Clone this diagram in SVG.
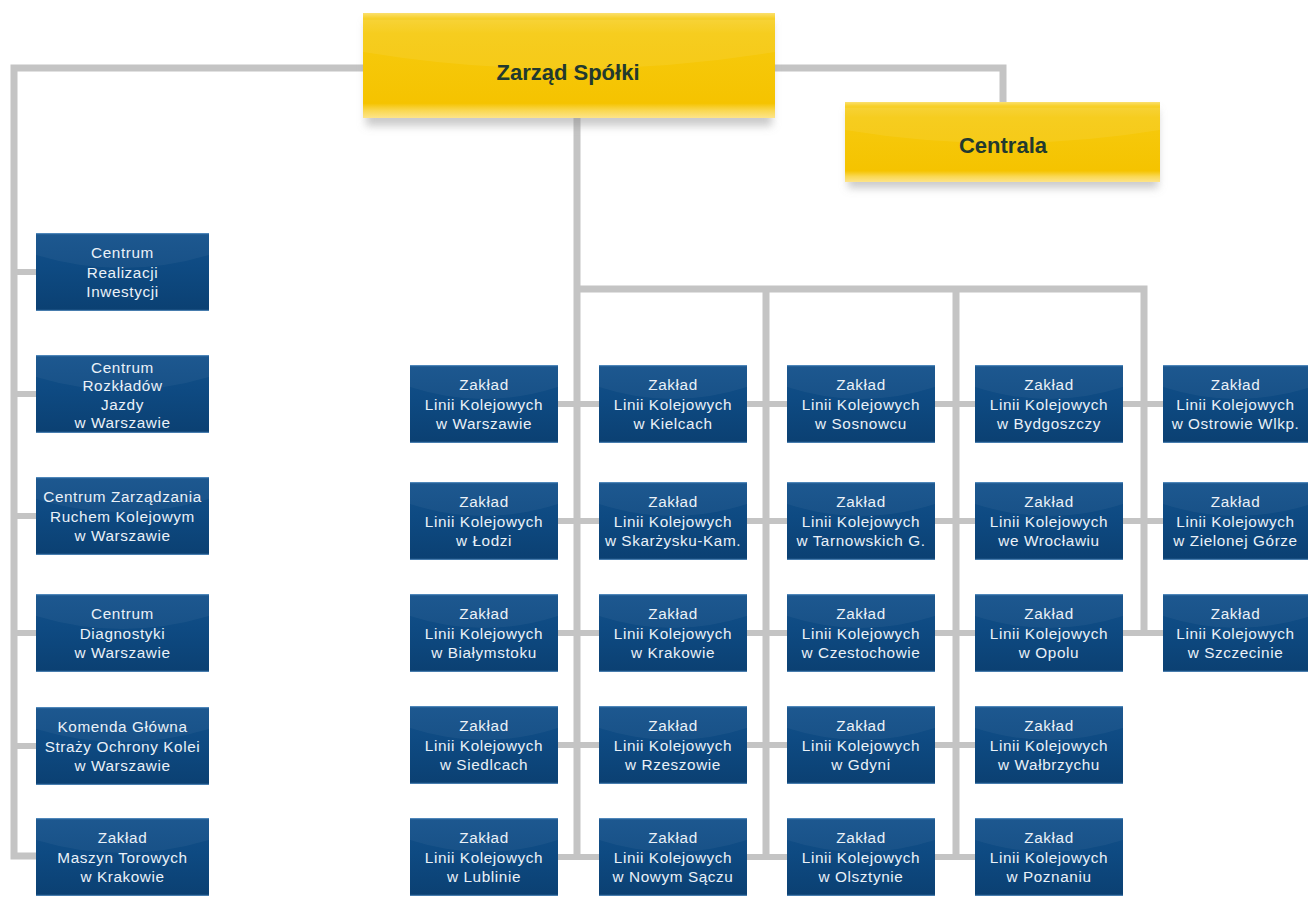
<svg xmlns="http://www.w3.org/2000/svg" xmlns:xlink="http://www.w3.org/1999/xlink" width="1308" height="900" viewBox="0 0 1308 900">
<style>
.conn{fill:none;stroke:#c4c4c4;stroke-width:7;stroke-linejoin:miter}
.br{fill:none;stroke:#c4c4c4;stroke-width:6}
.bt{font-family:"Liberation Sans",Arial,sans-serif;font-size:15.3px;letter-spacing:0.6px;fill:#eaf1f8;text-anchor:middle}
.yt{font-family:"Liberation Sans",Arial,sans-serif;font-size:22px;font-weight:bold;fill:#22392f;text-anchor:middle}
</style>
<defs>
<linearGradient id="gB" x1="0" y1="0" x2="0" y2="1">
<stop offset="0" stop-color="#13518b"/>
<stop offset="0.45" stop-color="#0e4a82"/>
<stop offset="1" stop-color="#0b4072"/>
</linearGradient>
<linearGradient id="gY" x1="0" y1="0" x2="0" y2="1">
<stop offset="0" stop-color="#fbe06e"/>
<stop offset="0.05" stop-color="#f7d02a"/>
<stop offset="0.2" stop-color="#f6ca0e"/>
<stop offset="0.86" stop-color="#f5c300"/>
<stop offset="0.93" stop-color="#fad852"/>
<stop offset="1" stop-color="#fde48a"/>
</linearGradient>
<filter id="sh" x="-10%" y="-20%" width="120%" height="150%">
<feGaussianBlur stdDeviation="4"/>
</filter>
<g id="boxR">
<rect x="0" y="0" width="148" height="78" fill="url(#gB)"/>
<path d="M0,0 H148 V22 Q74,46 0,22 Z" fill="#ffffff" fill-opacity="0.045"/>
<rect x="0" y="0" width="148" height="1.2" fill="#6fa5d6" fill-opacity="0.6"/>
<rect x="0" y="76.8" width="148" height="1.2" fill="#6fa5d6" fill-opacity="0.6"/>
</g>
<g id="boxL">
<rect x="0" y="0" width="173" height="78" fill="url(#gB)"/>
<path d="M0,0 H173 V22 Q86,48 0,22 Z" fill="#ffffff" fill-opacity="0.045"/>
<rect x="0" y="0" width="173" height="1.2" fill="#6fa5d6" fill-opacity="0.6"/>
<rect x="0" y="76.8" width="173" height="1.2" fill="#6fa5d6" fill-opacity="0.6"/>
</g>
</defs>
<rect width="1308" height="900" fill="#ffffff"/>

<g id="connectors">
<path class="conn" d="M36,856 H14 V68 H363"/>
<path class="conn" d="M775,68 H1003 V102"/>
<path class="conn" d="M577,118 V857"/>
<path class="conn" d="M577,289 H1144 V633"/>
<path class="conn" d="M766,289 V857"/>
<path class="conn" d="M956,289 V857"/>
<path class="br" d="M14,272 H36 M14,394 H36 M14,516 H36 M14,633 H36 M14,746 H36"/>
<path class="br" d="M558,404 H1163 M558,521 H1163 M558,633 H1163 M558,745 H975 M558,857 H975"/>
</g>

<g id="zarzad">
<rect x="366" y="22" width="406" height="104" fill="#8a8a8a" fill-opacity="0.45" filter="url(#sh)"/>
<rect x="363" y="13" width="412" height="105" fill="url(#gY)"/>
<path d="M363,20 H775 V52 Q569,86 363,52 Z" fill="#ffffff" fill-opacity="0.07"/>
<text class="yt" x="568" y="80">Zarząd Spółki</text>
</g>

<g id="centrala">
<rect x="848" y="110" width="310" height="78" fill="#8a8a8a" fill-opacity="0.45" filter="url(#sh)"/>
<rect x="845" y="102" width="315" height="80" fill="url(#gY)"/>
<path d="M845,108 H1160 V130 Q1002,156 845,130 Z" fill="#ffffff" fill-opacity="0.07"/>
<text class="yt" x="1003" y="153">Centrala</text>
</g>

<g id="l1" transform="translate(36,233)"><use xlink:href="#boxL"/><text class="bt"><tspan x="86.5" y="25">Centrum</tspan><tspan x="86.5" y="44.5">Realizacji</tspan><tspan x="86.5" y="64">Inwestycji</tspan></text></g>
<g id="l2" transform="translate(36,355)"><use xlink:href="#boxL"/><text class="bt"><tspan x="86.5" y="17.5">Centrum</tspan><tspan x="86.5" y="36">Rozkładów</tspan><tspan x="86.5" y="54.5">Jazdy</tspan><tspan x="86.5" y="73">w Warszawie</tspan></text></g>
<g id="l3" transform="translate(36,477)"><use xlink:href="#boxL"/><text class="bt"><tspan x="86.5" y="25">Centrum Zarządzania</tspan><tspan x="86.5" y="44.5">Ruchem Kolejowym</tspan><tspan x="86.5" y="64">w Warszawie</tspan></text></g>
<g id="l4" transform="translate(36,594)"><use xlink:href="#boxL"/><text class="bt"><tspan x="86.5" y="25">Centrum</tspan><tspan x="86.5" y="44.5">Diagnostyki</tspan><tspan x="86.5" y="64">w Warszawie</tspan></text></g>
<g id="l5" transform="translate(36,707)"><use xlink:href="#boxL"/><text class="bt"><tspan x="86.5" y="25">Komenda Główna</tspan><tspan x="86.5" y="44.5">Straży Ochrony Kolei</tspan><tspan x="86.5" y="64">w Warszawie</tspan></text></g>
<g id="l6" transform="translate(36,818)"><use xlink:href="#boxL"/><text class="bt"><tspan x="86.5" y="25">Zakład</tspan><tspan x="86.5" y="44.5">Maszyn Torowych</tspan><tspan x="86.5" y="64">w Krakowie</tspan></text></g>

<g id="z11" transform="translate(410,365)"><use xlink:href="#boxR"/><text class="bt"><tspan x="74" y="25">Zakład</tspan><tspan x="74" y="44.5">Linii Kolejowych</tspan><tspan x="74" y="64">w Warszawie</tspan></text></g>
<g id="z21" transform="translate(410,482)"><use xlink:href="#boxR"/><text class="bt"><tspan x="74" y="25">Zakład</tspan><tspan x="74" y="44.5">Linii Kolejowych</tspan><tspan x="74" y="64">w Łodzi</tspan></text></g>
<g id="z31" transform="translate(410,594)"><use xlink:href="#boxR"/><text class="bt"><tspan x="74" y="25">Zakład</tspan><tspan x="74" y="44.5">Linii Kolejowych</tspan><tspan x="74" y="64">w Białymstoku</tspan></text></g>
<g id="z41" transform="translate(410,706)"><use xlink:href="#boxR"/><text class="bt"><tspan x="74" y="25">Zakład</tspan><tspan x="74" y="44.5">Linii Kolejowych</tspan><tspan x="74" y="64">w Siedlcach</tspan></text></g>
<g id="z51" transform="translate(410,818)"><use xlink:href="#boxR"/><text class="bt"><tspan x="74" y="25">Zakład</tspan><tspan x="74" y="44.5">Linii Kolejowych</tspan><tspan x="74" y="64">w Lublinie</tspan></text></g>

<g id="z12" transform="translate(599,365)"><use xlink:href="#boxR"/><text class="bt"><tspan x="74" y="25">Zakład</tspan><tspan x="74" y="44.5">Linii Kolejowych</tspan><tspan x="74" y="64">w Kielcach</tspan></text></g>
<g id="z22" transform="translate(599,482)"><use xlink:href="#boxR"/><text class="bt"><tspan x="74" y="25">Zakład</tspan><tspan x="74" y="44.5">Linii Kolejowych</tspan><tspan x="74" y="64">w Skarżysku-Kam.</tspan></text></g>
<g id="z32" transform="translate(599,594)"><use xlink:href="#boxR"/><text class="bt"><tspan x="74" y="25">Zakład</tspan><tspan x="74" y="44.5">Linii Kolejowych</tspan><tspan x="74" y="64">w Krakowie</tspan></text></g>
<g id="z42" transform="translate(599,706)"><use xlink:href="#boxR"/><text class="bt"><tspan x="74" y="25">Zakład</tspan><tspan x="74" y="44.5">Linii Kolejowych</tspan><tspan x="74" y="64">w Rzeszowie</tspan></text></g>
<g id="z52" transform="translate(599,818)"><use xlink:href="#boxR"/><text class="bt"><tspan x="74" y="25">Zakład</tspan><tspan x="74" y="44.5">Linii Kolejowych</tspan><tspan x="74" y="64">w Nowym Sączu</tspan></text></g>

<g id="z13" transform="translate(787,365)"><use xlink:href="#boxR"/><text class="bt"><tspan x="74" y="25">Zakład</tspan><tspan x="74" y="44.5">Linii Kolejowych</tspan><tspan x="74" y="64">w Sosnowcu</tspan></text></g>
<g id="z23" transform="translate(787,482)"><use xlink:href="#boxR"/><text class="bt"><tspan x="74" y="25">Zakład</tspan><tspan x="74" y="44.5">Linii Kolejowych</tspan><tspan x="74" y="64">w Tarnowskich G.</tspan></text></g>
<g id="z33" transform="translate(787,594)"><use xlink:href="#boxR"/><text class="bt"><tspan x="74" y="25">Zakład</tspan><tspan x="74" y="44.5">Linii Kolejowych</tspan><tspan x="74" y="64">w Czestochowie</tspan></text></g>
<g id="z43" transform="translate(787,706)"><use xlink:href="#boxR"/><text class="bt"><tspan x="74" y="25">Zakład</tspan><tspan x="74" y="44.5">Linii Kolejowych</tspan><tspan x="74" y="64">w Gdyni</tspan></text></g>
<g id="z53" transform="translate(787,818)"><use xlink:href="#boxR"/><text class="bt"><tspan x="74" y="25">Zakład</tspan><tspan x="74" y="44.5">Linii Kolejowych</tspan><tspan x="74" y="64">w Olsztynie</tspan></text></g>

<g id="z14" transform="translate(975,365)"><use xlink:href="#boxR"/><text class="bt"><tspan x="74" y="25">Zakład</tspan><tspan x="74" y="44.5">Linii Kolejowych</tspan><tspan x="74" y="64">w Bydgoszczy</tspan></text></g>
<g id="z24" transform="translate(975,482)"><use xlink:href="#boxR"/><text class="bt"><tspan x="74" y="25">Zakład</tspan><tspan x="74" y="44.5">Linii Kolejowych</tspan><tspan x="74" y="64">we Wrocławiu</tspan></text></g>
<g id="z34" transform="translate(975,594)"><use xlink:href="#boxR"/><text class="bt"><tspan x="74" y="25">Zakład</tspan><tspan x="74" y="44.5">Linii Kolejowych</tspan><tspan x="74" y="64">w Opolu</tspan></text></g>
<g id="z44" transform="translate(975,706)"><use xlink:href="#boxR"/><text class="bt"><tspan x="74" y="25">Zakład</tspan><tspan x="74" y="44.5">Linii Kolejowych</tspan><tspan x="74" y="64">w Wałbrzychu</tspan></text></g>
<g id="z54" transform="translate(975,818)"><use xlink:href="#boxR"/><text class="bt"><tspan x="74" y="25">Zakład</tspan><tspan x="74" y="44.5">Linii Kolejowych</tspan><tspan x="74" y="64">w Poznaniu</tspan></text></g>

<g id="z15" transform="translate(1163,365)"><use xlink:href="#boxR"/><text class="bt"><tspan x="72.5" y="25">Zakład</tspan><tspan x="72.5" y="44.5">Linii Kolejowych</tspan><tspan x="72.5" y="64">w Ostrowie Wlkp.</tspan></text></g>
<g id="z25" transform="translate(1163,482)"><use xlink:href="#boxR"/><text class="bt"><tspan x="72.5" y="25">Zakład</tspan><tspan x="72.5" y="44.5">Linii Kolejowych</tspan><tspan x="72.5" y="64">w Zielonej Górze</tspan></text></g>
<g id="z35" transform="translate(1163,594)"><use xlink:href="#boxR"/><text class="bt"><tspan x="72.5" y="25">Zakład</tspan><tspan x="72.5" y="44.5">Linii Kolejowych</tspan><tspan x="72.5" y="64">w Szczecinie</tspan></text></g>
</svg>
